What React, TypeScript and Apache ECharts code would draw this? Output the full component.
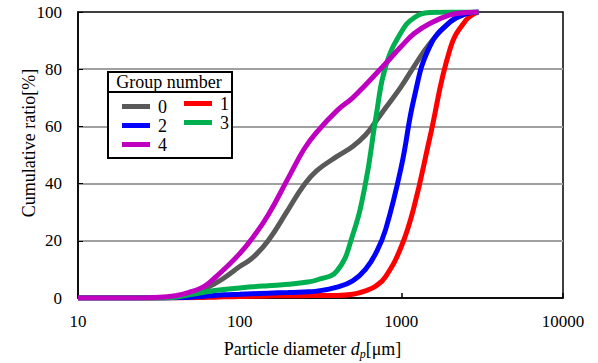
import React, { useEffect, useRef } from "react";
import * as echarts from "echarts";

const diameters = [10, 20, 30, 40, 50, 60, 70, 80, 100, 120, 150, 200, 250, 300, 400, 500, 600, 700, 800, 1000, 1200, 1500, 2000, 2500, 3000];
const group0 = [0, 0, 0, 0.4, 1.2, 3, 5, 7, 11, 14, 20, 31, 39.5, 44.5, 49.5, 53, 57, 62, 66.5, 74, 81, 89, 96.5, 99.3, 100];
const group1 = [0, 0, 0, 0, 0.1, 0.2, 0.3, 0.4, 0.5, 0.6, 0.7, 0.8, 0.8, 0.9, 0.9, 1.3, 2.5, 4.3, 7.5, 18, 32, 56, 87, 97, 100];
const group2 = [0, 0, 0, 0.1, 0.3, 0.6, 0.9, 1.1, 1.3, 1.5, 1.7, 1.9, 2.1, 2.4, 3.8, 6, 10, 16, 24, 46, 70, 88, 96.5, 99.3, 100];
const group3 = [0, 0, 0, 0.3, 1.2, 2.0, 2.6, 3.0, 3.5, 3.9, 4.3, 4.8, 5.4, 6.3, 9.5, 22, 40, 64, 81, 93, 98, 99.8, 100, 100, 100];
const group4 = [0, 0, 0.2, 0.8, 2.2, 4, 7, 10, 15.5, 21, 29, 42, 52, 58, 65.5, 70, 74.5, 78.5, 82, 88, 92.5, 96, 99, 99.8, 100];

const groupNames = ["0", "1", "2", "3", "4"];
const groupValues = [group0, group1, group2, group3, group4];
const groupColors = ["#595959", "#ff0000", "#0000ff", "#00b050", "#c000c0"];
const yTicks = [0, 20, 40, 60, 80, 100];

const FONT = "'Liberation Serif', 'Times New Roman', serif";

export default function App() {
  const ref = useRef<HTMLDivElement>(null);
  useEffect(() => {
    if (!ref.current) return;
    document.body.style.margin = "0";
    const chart = echarts.init(ref.current, null, { renderer: "svg" });
    const series = groupNames.map((name, i) => ({
      name,
      type: "line",
      data: diameters.map((d, j) => [d, groupValues[i][j]]),
      smooth: 0.45,
      showSymbol: false,
      lineStyle: { color: groupColors[i], width: 5 },
      itemStyle: { color: groupColors[i] },
    }));
    chart.setOption({
      animation: false,
      backgroundColor: "#ffffff",
      textStyle: { fontFamily: FONT },
      grid: {
        left: 78,
        right: 35,
        top: 12,
        bottom: 65,
        show: true,
        borderColor: "#000",
        borderWidth: 1.5,
        outerBoundsMode: "none",
        containLabel: false,
      },
      xAxis: {
        type: "log",
        logBase: 10,
        min: 10,
        max: 10000,
        axisLine: { lineStyle: { color: "#000", width: 1.5 } },
        axisTick: { inside: true, length: 5, lineStyle: { color: "#000", width: 1.5 } },
        minorTick: { show: false },
        splitLine: { show: false },
        axisLabel: {
          color: "#000",
          fontSize: 17,
          fontFamily: FONT,
          margin: 15,
          formatter: (v: number) => String(Math.round(v)),
        },
        name: "{a|Particle diameter }{i|d}{s|p}{a|[μm]}",
        nameLocation: "middle",
        nameGap: 40,
        nameMoveOverlap: false,
        nameTextStyle: {
          color: "#000",
          fontFamily: FONT,
          padding: [0, 16, 0, 0],
          rich: {
            a: { fontSize: 18, fontFamily: FONT, color: "#000" },
            i: { fontSize: 18, fontFamily: FONT, fontStyle: "italic", color: "#000" },
            s: { fontSize: 12, fontFamily: FONT, fontStyle: "italic", color: "#000", padding: [10, 0, 0, 0] },
          },
        },
      },
      yAxis: {
        type: "value",
        min: yTicks[0],
        max: yTicks[yTicks.length - 1],
        interval: 20,
        axisLine: { show: true, lineStyle: { color: "#000", width: 1.5 } },
        axisTick: { show: true, inside: true, length: 5, lineStyle: { color: "#000" } },
        splitLine: { show: true, showMinLine: false, showMaxLine: false, lineStyle: { color: "#a0a0a0", width: 2 } },
        axisLabel: { color: "#000", fontSize: 17, fontFamily: FONT, margin: 16 },
        name: "Cumulative ratio[%]",
        nameLocation: "middle",
        nameGap: 40,
        nameMoveOverlap: false,
        nameTextStyle: { color: "#000", fontSize: 18, fontFamily: FONT, padding: [0, 0, 0, 24] },
      },
      legend: [
        {
          data: ["0", "2", "4"],
          orient: "vertical",
          left: 122,
          top: 97,
          padding: 0,
          itemGap: 0,
          itemWidth: 28,
          itemHeight: 5,
          icon: "rect",
          selectedMode: false,
          z: 100,
          textStyle: { color: "#000", fontSize: 18, fontFamily: FONT, lineHeight: 19, padding: [0, 0, 0, 3] },
        },
        {
          data: ["1", "3"],
          orient: "vertical",
          left: 184,
          top: 94,
          padding: 0,
          itemGap: 0,
          itemWidth: 28,
          itemHeight: 5,
          icon: "rect",
          selectedMode: false,
          z: 100,
          textStyle: { color: "#000", fontSize: 18, fontFamily: FONT, lineHeight: 19, padding: [0, 0, 0, 3] },
        },
      ],
      graphic: [
        {
          type: "rect",
          left: 107,
          top: 71,
          shape: { width: 124, height: 86 },
          style: { fill: "#fff", stroke: "#000", lineWidth: 2 },
          z: 50,
        },
        {
          type: "line",
          shape: { x1: 107, y1: 92, x2: 231, y2: 92 },
          style: { stroke: "#000", lineWidth: 2 },
          z: 51,
        },
        {
          type: "text",
          x: 169,
          y: 82,
          style: {
            text: "Group number",
            fontSize: 18,
            fontFamily: FONT,
            fill: "#000",
            align: "center",
            verticalAlign: "middle",
          },
          z: 51,
        },
      ],
      series,
    });
    return () => chart.dispose();
  }, []);
  return <div ref={ref} style={{ width: 598, height: 363 }} />;
}
